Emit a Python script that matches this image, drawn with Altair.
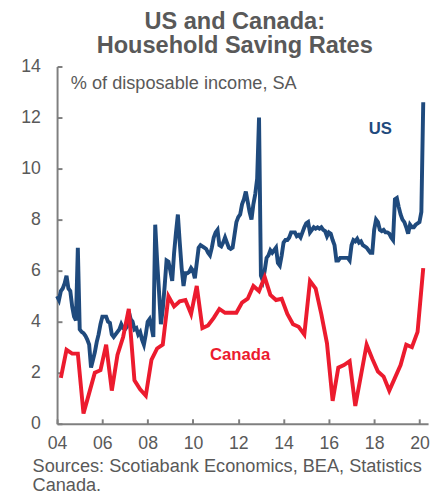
import altair as alt
import pandas as pd

# US personal saving rate, monthly, Jan 2004 - Mar 2020 (% of disposable income)
us_2004 = [5.0, 4.85, 5.2, 5.3, 5.5, 5.8, 5.3, 5.2, 4.6, 4.2, 4.05, 6.9]
us_2005 = [3.7, 3.6, 3.55, 3.45, 3.3, 3.1, 2.2, 2.5, 2.8, 3.2, 3.5, 3.9]
us_2006 = [4.2, 4.2, 4.2, 4.0, 3.95, 3.5, 3.4, 3.5, 3.6, 3.7, 3.9, 3.75]
us_2007 = [3.7, 3.8, 4.4, 4.1, 4.0, 3.7, 3.75, 3.5, 3.6, 3.3, 3.1, 3.5]
us_2008 = [4.0, 4.1, 3.8, 3.4, 7.8, 6.4, 5.2, 3.9, 4.5, 5.4, 6.4, 6.35]
us_2009 = [6.0, 5.6, 6.7, 7.5, 8.2, 7.1, 6.1, 5.4, 5.9, 5.9, 5.95, 6.1]
us_2010 = [6.0, 5.7, 6.3, 6.9, 7.0, 6.95, 6.9, 6.85, 6.7, 6.6, 6.9, 7.3]
us_2011 = [7.5, 7.6, 7.0, 6.95, 7.1, 7.3, 7.1, 6.9, 6.85, 6.9, 7.4, 7.9]
us_2012 = [8.1, 8.2, 8.6, 8.8, 9.1, 8.7, 8.3, 8.0, 8.6, 9.0, 9.6, 12.0]
us_2013 = [5.8, 5.6, 6.0, 6.5, 6.6, 6.8, 6.7, 6.8, 6.9, 6.3, 6.2, 6.6]
us_2014 = [7.1, 7.2, 7.2, 7.3, 7.5, 7.5, 7.5, 7.35, 7.4, 7.3, 7.5, 7.7]
us_2015 = [7.85, 7.9, 7.5, 7.6, 7.7, 7.65, 7.7, 7.65, 7.7, 7.6, 7.55, 7.35]
us_2016 = [7.5, 7.45, 7.2, 7.0, 6.4, 6.4, 6.5, 6.5, 6.5, 6.5, 6.5, 6.4]
us_2017 = [7.0, 7.2, 7.15, 7.25, 7.1, 7.15, 7.0, 6.95, 6.9, 6.8, 6.7, 6.7]
us_2018 = [7.6, 8.0, 7.9, 7.6, 7.55, 7.6, 7.5, 7.5, 7.45, 7.3, 7.2, 8.8]
us_2019 = [8.85, 8.5, 8.2, 8.0, 7.9, 7.7, 7.45, 7.8, 7.7, 7.7, 7.8, 7.85]
us_2020 = [7.9, 8.3, 12.6]

# Canada household saving rate, quarterly, Q1 2004 - Q1 2020
ca_2004 = [1.8, 2.9, 2.75, 2.75]
ca_2005 = [0.4, 1.2, 2.0, 2.1]
ca_2006 = [3.1, 1.3, 2.7, 3.4]
ca_2007 = [4.5, 1.7, 1.35, 1.1]
ca_2008 = [2.5, 2.95, 3.1, 5.0]
ca_2009 = [4.6, 4.8, 4.85, 4.3]
ca_2010 = [5.4, 3.75, 3.85, 4.15]
ca_2011 = [4.5, 4.35, 4.35, 4.35]
ca_2012 = [4.75, 4.9, 5.4, 5.2]
ca_2013 = [5.75, 5.05, 4.85, 4.9]
ca_2014 = [4.3, 3.9, 3.8, 3.5]
ca_2015 = [5.6, 5.3, 4.3, 3.15]
ca_2016 = [0.9, 2.2, 2.3, 2.45]
ca_2017 = [0.7, 1.9, 3.1, 2.55]
ca_2018 = [2.05, 1.85, 1.3, 1.8]
ca_2019 = [2.3, 3.1, 3.0, 3.6]
ca_2020 = [6.1]

x_ticks = [2004, 2006, 2008, 2010, 2012, 2014, 2016, 2018, 2020]
y_ticks = [0, 2, 4, 6, 8, 10, 12, 14]

series_labels = ["US", "Canada"]
label_year = [2018.27, 2012.08]
label_value = [11.55, 2.7]

title_lines = ["US and Canada:", "Household Saving Rates"]
subtitle = "% of disposable income, SA"
source_lines = ["Sources: Scotiabank Economics, BEA, Statistics", "Canada."]

US_COLOR = "#1f4a7d"
CA_COLOR = "#ec1b2e"
GRAY = "#595959"
FONT = "Liberation Sans"

us_vals = (us_2004 + us_2005 + us_2006 + us_2007 + us_2008 + us_2009 + us_2010
           + us_2011 + us_2012 + us_2013 + us_2014 + us_2015 + us_2016 + us_2017
           + us_2018 + us_2019 + us_2020)
ca_vals = (ca_2004 + ca_2005 + ca_2006 + ca_2007 + ca_2008 + ca_2009 + ca_2010
           + ca_2011 + ca_2012 + ca_2013 + ca_2014 + ca_2015 + ca_2016 + ca_2017
           + ca_2018 + ca_2019 + ca_2020)

us_df = pd.DataFrame({"t": [2004 + i / 12 for i in range(len(us_vals))], "v": us_vals})
ca_df = pd.DataFrame({"t": [2004 + i / 4 + 2 / 12 for i in range(len(ca_vals))], "v": ca_vals})
lab_df = pd.DataFrame({"label": series_labels, "t": label_year, "v": label_value})

x_scale = alt.Scale(domain=[2004, 2020.38], nice=False, zero=False)
y_scale = alt.Scale(domain=[0, 14], nice=False)

x_axis = alt.Axis(values=x_ticks, labelExpr="slice(format(datum.value, 'd'), 2)",
                  title=None, grid=False, tickSize={"expr": "-5"}, labelPadding=16,
                  labelFlush=False,
                  labelFontSize=18, labelFont=FONT, labelColor=GRAY,
                  domainColor="#7f7f7f", tickColor="#7f7f7f", domainWidth=2, tickWidth=2)
y_axis = alt.Axis(values=y_ticks, format="d", title=None, grid=False,
                  tickSize={"expr": "-5"}, labelPadding=22,
                  labelFontSize=18, labelFont=FONT, labelColor=GRAY,
                  domainColor="#7f7f7f", tickColor="#7f7f7f", domainWidth=2, tickWidth=2)

base_x = alt.X("t:Q", scale=x_scale, axis=x_axis)
base_y = alt.Y("v:Q", scale=y_scale, axis=y_axis)

ca_line = alt.Chart(ca_df).mark_line(color=CA_COLOR, strokeWidth=4).encode(x=base_x, y=base_y)
us_line = alt.Chart(us_df).mark_line(color=US_COLOR, strokeWidth=4).encode(x=base_x, y=base_y)

labels = alt.Chart(lab_df).mark_text(fontSize=17, fontWeight="bold", font=FONT,
                                     align="center", baseline="middle").encode(
    x=alt.X("t:Q", scale=x_scale),
    y=alt.Y("v:Q", scale=y_scale),
    text="label:N",
    color=alt.Color("label:N", scale=alt.Scale(domain=series_labels,
                                               range=[US_COLOR, CA_COLOR]), legend=None),
)

sub = alt.Chart(pd.DataFrame({"s": [subtitle]})).mark_text(
    fontSize=18.5, font=FONT, color=GRAY, align="left", baseline="alphabetic"
).encode(x=alt.value(14), y=alt.value(23), text="s:N")

src = alt.Chart(pd.DataFrame({"s": [source_lines]})).mark_text(
    fontSize=18.5, font=FONT, color=GRAY, align="left", baseline="alphabetic",
    lineHeight=19.5
).encode(x=alt.value(-25), y=alt.value(413.5), text="s")

chart = alt.layer(us_line, ca_line, labels, sub, src).properties(
    width=378, height=364,
    padding={"left": 50, "top": 55, "right": 4, "bottom": 70},
    autosize=alt.AutoSizeParams(type="none"),
    title=alt.Title(title_lines, fontSize=24, font=FONT, fontWeight="bold", color=GRAY,
                    anchor="middle", dx=-8, offset=0, lineHeight=24),
).configure_view(stroke=None)

chart.save("out.html", embed_options={"renderer": "svg", "actions": False})
